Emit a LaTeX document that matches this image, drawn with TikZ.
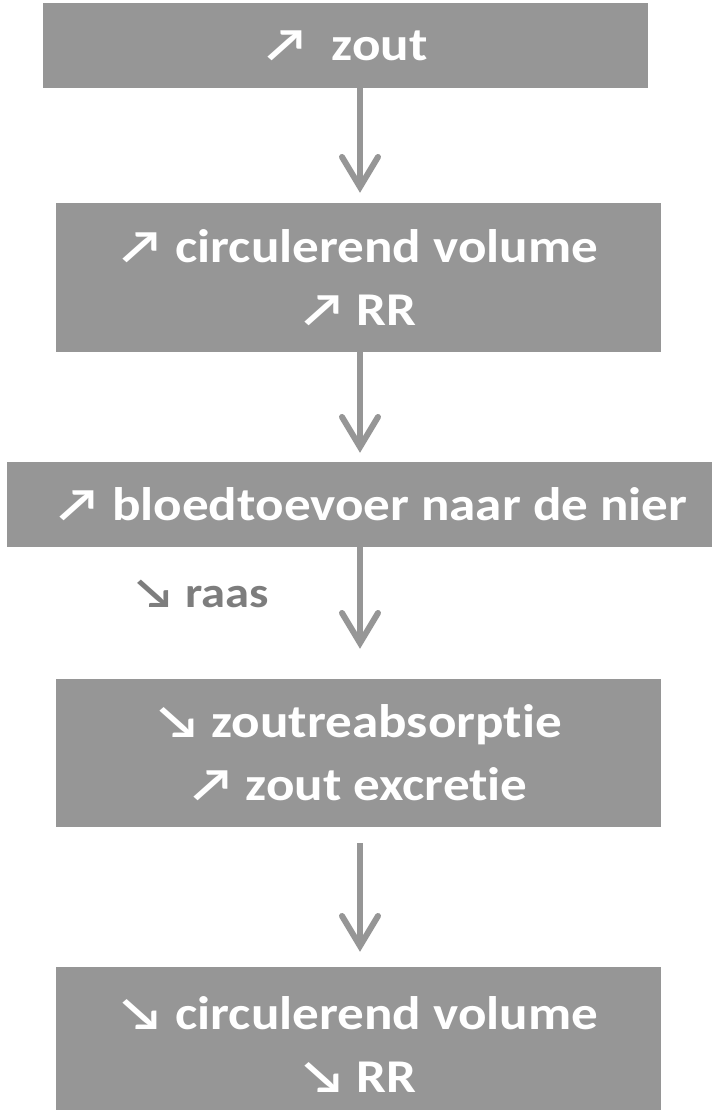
\documentclass[tikz,border=0pt]{standalone}
\usepackage{fontspec}
\setmainfont{Carlito}[FakeStretch = 1.13, Ligatures = NoCommon]
\usetikzlibrary{arrows.meta}

\definecolor{boxgray}{RGB}{150,150,150}
\definecolor{raasgray}{RGB}{125,125,125}

\begin{document}
\begin{tikzpicture}[x=1pt, y=-1pt,
        stepbox/.style = {%
            fill = boxgray, text = white, inner sep = 0pt,
            font = \bfseries\fontsize{47}{63}\selectfont, align = center,
            minimum width = 605pt, minimum height = 85pt
        },
        flow/.style = {%
            draw = boxgray, line width = 6pt,
            -{Straight Barb[length = 30pt, width = 36pt, line cap = round]}
        }
    ]

        % Fix the page to the size of the picture.
        \useasboundingbox (0,0) rectangle (712,1110);

        % The boxes of the chain, from top to bottom.
        \node[stepbox] (zout) at (345.5,45.5) {↗\ \ zout};
        \node[stepbox, minimum height = 149pt] (volup) at (358.5,277.5)
            {↗ circulerend volume\\↗ RR};
        \node[stepbox, minimum width = 705pt] (nier) at (359.5,504.5)
            {\hspace*{24pt}↗ bloedtoevoer naar de nier};
        \node[stepbox, minimum height = 148pt] (zoutex) at (358.5,753)
            {↘ zoutreabsorptie\\↗ zout excretie};
        \node[stepbox, minimum height = 155pt] (voldown) at (358.5,1044.5)
            {↘ circulerend volume\\↘ RR};

        % Side note next to the third arrow.
        \node[text = raasgray, font = \bfseries\fontsize{43}{50}\selectfont]
            (raas) at (201.5,594) {↘ raas};

        % All arrows run down one vertical line.
        \coordinate (axis) at (360,0);

        \draw[flow] (zout.south -| axis) -- ([yshift = 10pt]volup.north -| axis);
        \draw[flow] (volup.south -| axis) -- ([yshift = 9pt]nier.north -| axis);
        \draw[flow] (nier.south -| axis) -- ([yshift = 30pt]zoutex.north -| axis);
        \draw[flow] ([yshift = -16pt]zoutex.south -| axis)
            -- ([yshift = 15pt]voldown.north -| axis);
    \end{tikzpicture}
\end{document}
